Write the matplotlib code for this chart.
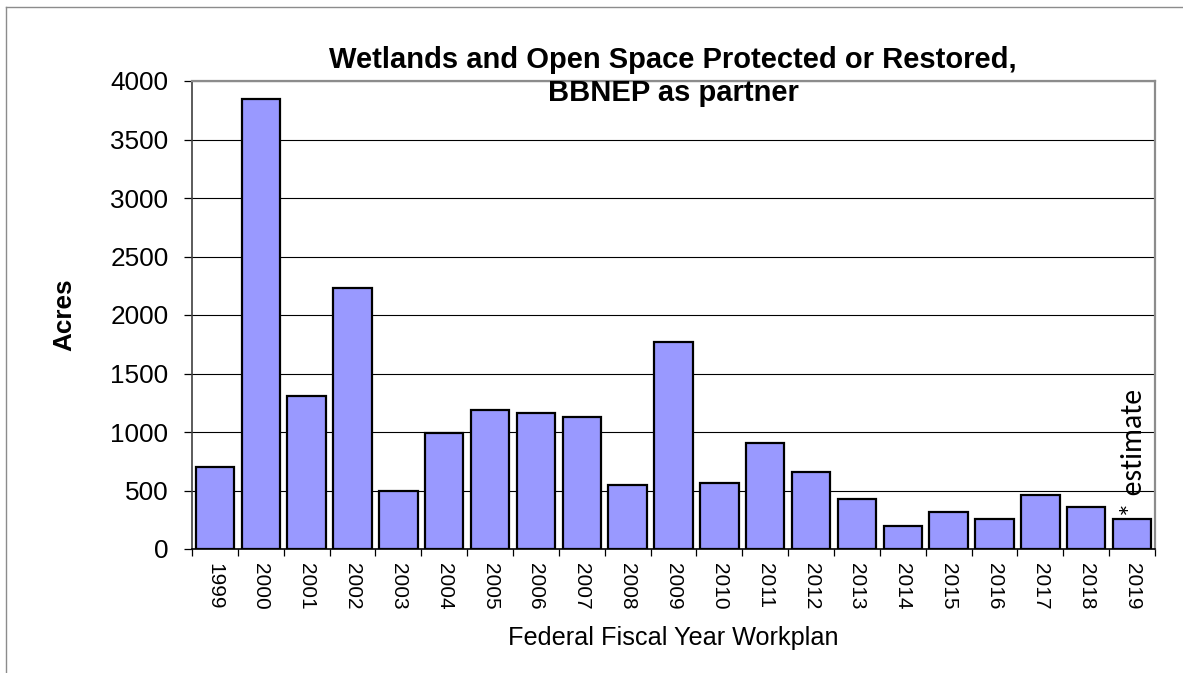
import matplotlib
matplotlib.use("Agg")
import matplotlib.pyplot as plt
from matplotlib.lines import Line2D
import numpy as np

plt.rcParams['font.family'] = ['Liberation Sans', 'DejaVu Sans']

years = ['1999', '2000', '2001', '2002', '2003', '2004', '2005', '2006', '2007',
         '2008', '2009', '2010', '2011', '2012', '2013', '2014', '2015', '2016',
         '2017', '2018', '2019']
acres = [700, 3850, 1310, 2230, 500, 990, 1185, 1165, 1130,
         550, 1770, 560, 910, 660, 425, 200, 315, 255,
         460, 362, 255]
yticks = [0, 500, 1000, 1500, 2000, 2500, 3000, 3500, 4000]

title = "Wetlands and Open Space Protected or Restored,\nBBNEP as partner"
xlabel = "Federal Fiscal Year Workplan"
ylabel = "Acres"
note = "* estimate"

W, H = 1183, 673
fig = plt.figure(figsize=(W / 100, H / 100), dpi=100)
fig.patch.set_facecolor('white')

# outer chart frame (left and top edges)
fig.add_artist(Line2D([6 / W, 6 / W], [0, 1 - 7 / H], color='#8c8c8c', lw=1.0))
fig.add_artist(Line2D([6 / W, 1], [1 - 7 / H, 1 - 7 / H], color='#8c8c8c', lw=1.0))

ax = fig.add_axes([192 / W, 1 - 549 / H, (1155 - 192) / W, (549 - 81) / H])

x = np.arange(len(years))
ax.bar(x, acres, width=0.84, color='#9999FF', edgecolor='black', linewidth=1.6, zorder=3)

ax.set_xlim(-0.5, len(years) - 0.5)
ax.set_ylim(0, 4000)
ax.set_yticks(yticks)
ax.set_yticklabels([str(v) for v in yticks], fontsize=18.8)
ax.yaxis.grid(True, color='black', linewidth=0.8, zorder=0)
ax.set_axisbelow(True)

ax.set_xticks(x)
ax.set_xticklabels(years, rotation=270, fontsize=15)
ax.set_xticks(np.arange(-0.5, len(years)), minor=True)
ax.tick_params(axis='x', which='major', length=0, pad=10)
ax.tick_params(axis='x', which='minor', length=5, width=0.9, color='black')
ax.tick_params(axis='y', length=6, width=0.9, pad=11, color='black')

for side in ('top', 'right'):
    ax.spines[side].set_color('#8c8c8c')
    ax.spines[side].set_linewidth(1.6)
ax.spines['left'].set_color('#404040')
ax.spines['left'].set_linewidth(1.2)
ax.spines['bottom'].set_color('black')
ax.spines['bottom'].set_linewidth(1.2)

ax.set_xlabel(xlabel, fontsize=18.2, labelpad=12)
ax.set_ylabel(ylabel, fontsize=18.8, fontweight='bold', labelpad=24)

# two-line title straddling the top edge of the plot area
fig.text(673 / W, 1 - 101 / H, title, ha='center', va='baseline', fontsize=21,
         fontweight='bold', linespacing=1.22)

ax.text(len(years) - 1 + 0.33, 255 + 15, note, rotation=90, ha='right', va='bottom',
        fontsize=21.5, family=['Carlito', 'Lato', 'DejaVu Sans'])

fig.savefig('out.png', dpi=100)
